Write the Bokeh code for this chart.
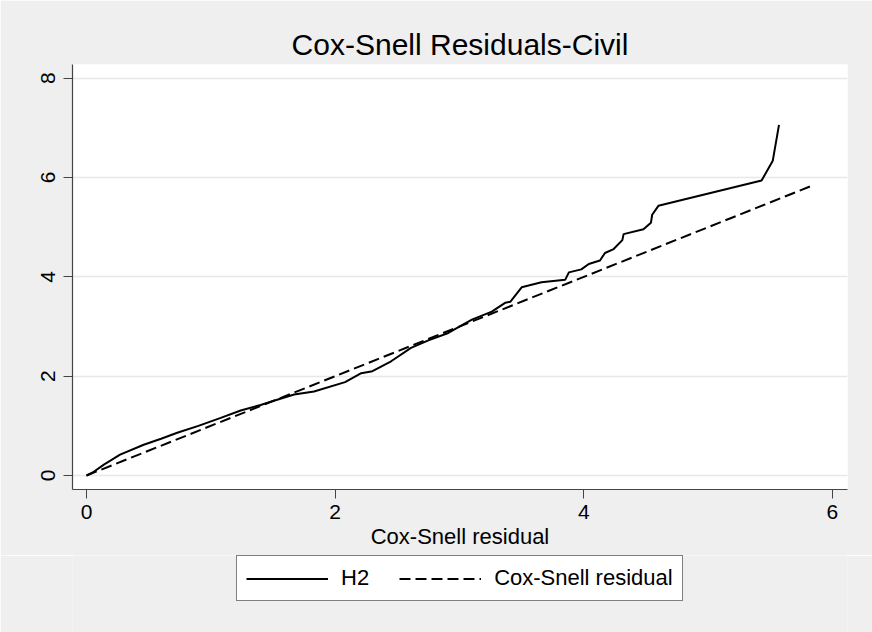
from bokeh.plotting import figure
from bokeh.layouts import column
from bokeh.models import Range1d, FixedTicker, Legend, LegendItem
from bokeh.embed import file_html
from bokeh.resources import INLINE

# ---- data ----
h2_x = [0.0, 0.05, 0.14, 0.27, 0.46, 0.60, 0.73, 0.90, 1.08, 1.24, 1.40, 1.54, 1.67,
        1.83, 2.08, 2.21, 2.30, 2.45, 2.61, 2.75, 2.91, 3.10, 3.26, 3.37, 3.41, 3.50,
        3.66, 3.85, 3.88, 3.98, 4.04, 4.13, 4.17, 4.24, 4.31, 4.32, 4.48, 4.54, 4.55,
        4.60, 5.43, 5.52, 5.57]
h2_y = [0.0, 0.06, 0.22, 0.42, 0.62, 0.74, 0.86, 1.00, 1.16, 1.31, 1.42, 1.53, 1.63,
        1.69, 1.88, 2.06, 2.10, 2.30, 2.57, 2.72, 2.87, 3.14, 3.30, 3.48, 3.50, 3.79,
        3.89, 3.94, 4.09, 4.15, 4.26, 4.33, 4.48, 4.56, 4.74, 4.86, 4.96, 5.09, 5.25,
        5.43, 5.94, 6.34, 7.06]
cs_x = [0.0, 5.84]
cs_y = [0.0, 5.84]
x_ticks = [0, 2, 4, 6]
y_ticks = [0, 2, 4, 6, 8]
title_text = "Cox-Snell Residuals-Civil"
x_label = "Cox-Snell residual"
legend_labels = ["H2", "Cox-Snell residual"]

FONT = "Liberation Sans"
BG = "#efefef"

p = figure(width=872, height=555, output_backend="svg", toolbar_location=None,
           x_range=Range1d(-0.1126, 6.121), y_range=Range1d(-0.282, 8.276),
           min_border_left=72, min_border_right=25, min_border_top=64,
           min_border_bottom=66,
           background_fill_color="white", border_fill_color=BG,
           outline_line_color=None)

p.title.text = title_text
p.title.align = "center"
p.title.text_font = FONT
p.title.text_font_size = "30px"
p.title.text_font_style = "normal"
p.title.text_color = "black"
p.title.standoff = 8

for ax in (p.xaxis[0], p.yaxis[0]):
    ax.minor_tick_line_color = None
    ax.major_tick_in = 0
    ax.major_tick_out = 9
    ax.major_tick_line_color = "#444444"
    ax.axis_line_color = "#444444"
    ax.axis_line_width = 1.2
    ax.major_label_text_font = FONT
    ax.major_label_text_font_size = "21px"
    ax.major_label_text_color = "black"
    ax.axis_label_text_font = FONT
    ax.axis_label_text_font_size = "22px"
    ax.axis_label_text_font_style = "normal"
    ax.axis_label_text_color = "black"

p.xaxis.ticker = FixedTicker(ticks=x_ticks)
p.yaxis.ticker = FixedTicker(ticks=y_ticks)
p.xaxis.axis_label = x_label
p.xaxis.major_label_standoff = 6
p.xaxis.axis_label_standoff = 2
p.yaxis.major_label_orientation = "vertical"
p.yaxis.major_label_standoff = 8

p.xgrid.visible = False
p.ygrid.ticker = FixedTicker(ticks=y_ticks)
p.ygrid.grid_line_color = "#e8e8e8"
p.ygrid.grid_line_width = 1.5

r1 = p.line(h2_x, h2_y, line_color="black", line_width=2)
r2 = p.line(cs_x, cs_y, line_color="black", line_width=2, line_dash="11 5")

# ---- legend strip below the plot ----
leg = figure(width=872, height=77, output_backend="svg", toolbar_location=None,
             x_range=Range1d(0, 1), y_range=Range1d(0, 1),
             x_axis_location=None, y_axis_location=None,
             min_border=0, min_border_left=0, min_border_right=0,
             min_border_top=0, min_border_bottom=0,
             background_fill_color=BG, border_fill_color=BG,
             outline_line_color=None)
leg.xgrid.visible = False
leg.ygrid.visible = False
l1 = leg.line(h2_x, h2_y, line_color="black", line_width=2, visible=False)
l2 = leg.line(cs_x, cs_y, line_color="black", line_width=2, line_dash="11 5",
              visible=False)

legend = Legend(items=[LegendItem(label=legend_labels[0], renderers=[l1]),
                       LegendItem(label=legend_labels[1], renderers=[l2])],
                orientation="horizontal", location=(164, 31),
                border_line_color="black", border_line_width=1,
                background_fill_color="white", background_fill_alpha=1.0,
                glyph_width=82, glyph_height=25, label_height=25,
                label_standoff=13, spacing=30, padding=9, margin=0,
                label_text_font=FONT, label_text_font_size="22px",
                label_text_color="black")
leg.add_layout(legend, "center")

layout = column(p, leg, spacing=0)
open("out.html", "w").write(file_html(layout, INLINE))
